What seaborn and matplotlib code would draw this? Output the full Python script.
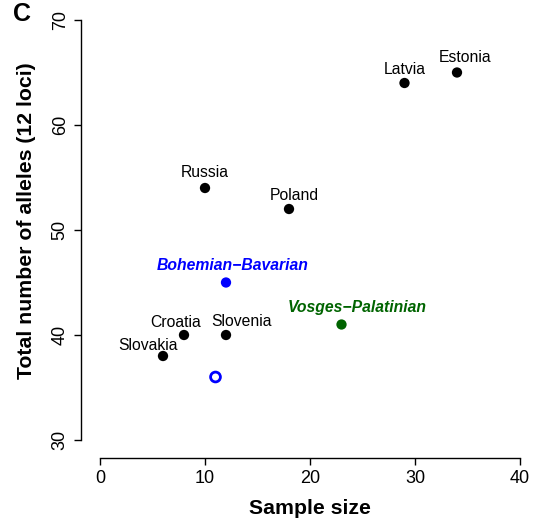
import pandas as pd
import matplotlib.pyplot as plt
import seaborn as sns

# Populations: sample size vs. total number of alleles
populations = ['Slovakia', 'Croatia', 'Slovenia', 'Russia', 'Poland', 'Latvia', 'Estonia',
               'Bohemian\u2212Bavarian', 'Vosges\u2212Palatinian']
sample_size = [6, 8, 12, 10, 18, 29, 34, 12, 23]
n_alleles = [38, 40, 40, 54, 52, 64, 65, 45, 41]
group = ['other'] * 7 + ['bohemian', 'vosges']

# extra open point (no label)
open_x = [11]
open_y = [36]

# label placement (data units)
label_x = [4.6, 7.2, 13.5, 10, 18.5, 29, 34.8, 12.6, 24.5]
label_dy = [1.0, 1.2, 1.3, 1.5, 1.3, 1.3, 1.4, 1.65, 1.65]

palette = {'other': 'black', 'bohemian': '#0000ff', 'vosges': '#006400'}

sns.set_style('ticks')
plt.rcParams['font.family'] = ['Liberation Sans', 'DejaVu Sans']
for k in ['text.color', 'axes.labelcolor', 'xtick.color', 'ytick.color', 'axes.edgecolor']:
    plt.rcParams[k] = 'black'

df = pd.DataFrame({'pop': populations, 'x': sample_size, 'y': n_alleles, 'grp': group})

fig = plt.figure(figsize=(5.42, 5.21), dpi=100)
ax = fig.add_axes([100 / 542, 81 / 521, 420 / 542, 420 / 521])

sns.scatterplot(data=df, x='x', y='y', hue='grp', palette=palette, s=55,
                edgecolor='none', legend=False, ax=ax)
sns.scatterplot(x=open_x, y=open_y, s=50, facecolor='none', edgecolor='#0000ff',
                linewidth=2, ax=ax)

for i, name in enumerate(populations):
    style = {}
    if group[i] != 'other':
        style = dict(fontweight='bold', fontstyle='italic')
    ax.text(label_x[i], n_alleles[i] + label_dy[i], name, ha='center', va='center',
            fontsize=11.3, color=palette[group[i]], **style)

ax.set_xlim(0, 40)
ax.set_ylim(30, 70)
ax.set_xticks([0, 10, 20, 30, 40])
ax.set_yticks([30, 40, 50, 60, 70])
ax.spines['top'].set_visible(False)
ax.spines['right'].set_visible(False)
ax.spines['left'].set_position(('outward', 14))
ax.spines['bottom'].set_position(('outward', 13))
ax.spines['left'].set_bounds(30, 70)
ax.spines['bottom'].set_bounds(0, 40)
for s in ['left', 'bottom']:
    ax.spines[s].set_linewidth(1)
ax.tick_params(axis='both', length=5, width=1, labelsize=13, direction='out')
plt.setp(ax.get_yticklabels(), rotation=90, va='center')

ax.set_xlabel('Sample size', fontsize=15.3, fontweight='bold')
ax.set_ylabel('Total number of alleles (12 loci)', fontsize=15.3, fontweight='bold')
ax.xaxis.label.set_va('center')
ax.yaxis.label.set_va('center')
ax.xaxis.set_label_coords(0.5, (440 - 508) / 420)
ax.yaxis.set_label_coords((27 - 100) / 420, (440 - 221) / 420)

fig.text(22 / 542, 1 - 14 / 521, 'C', fontsize=18, fontweight='bold', ha='center', va='center')

plt.savefig('out.png', dpi=100)
plt.close()
